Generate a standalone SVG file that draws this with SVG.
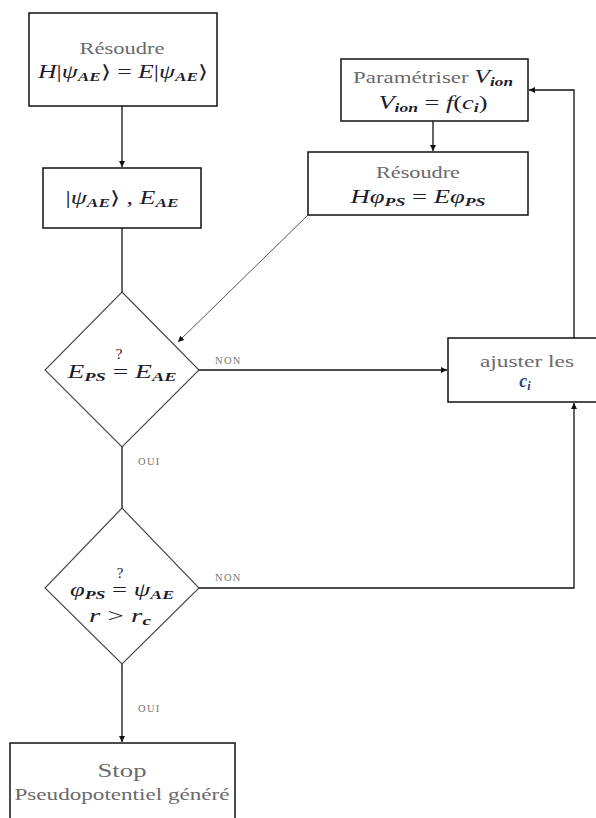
<svg xmlns="http://www.w3.org/2000/svg" width="596" height="818" viewBox="0 0 596 818">
<style>
.box{fill:#fff;stroke:#111;stroke-width:1.5}
.dia{fill:#fff;stroke:#444;stroke-width:1.1}
.ln{fill:none;stroke:#111;stroke-width:1.3}
.ln2{fill:none;stroke:#555;stroke-width:1}
.r{font-family:"Liberation Serif","Times New Roman",Times,serif;fill:#6a6a6a;text-anchor:middle}
.m{font-family:"Liberation Serif","Times New Roman",Times,serif;fill:#1c1c2e;text-anchor:middle;font-size:18px}
.q{font-family:"Liberation Serif","Times New Roman",Times,serif;fill:#1c1c2e;text-anchor:middle;font-size:15px}
.i{font-style:italic}
.s{font-size:12px;font-style:italic;font-weight:bold}
.lbl{font-family:"Liberation Serif","Times New Roman",Times,serif;fill:#777;font-size:10.5px;letter-spacing:1.3px}
</style>
<defs>
<marker id="ah" markerUnits="userSpaceOnUse" markerWidth="8" markerHeight="8" refX="6" refY="3" orient="auto">
<path d="M0,0 L6,3 L0,6 Z" fill="#111"/>
</marker>
</defs>
<rect width="596" height="818" fill="#fff"/>
<g id="connectors">
<line class="ln" x1="122" y1="106" x2="122" y2="167" marker-end="url(#ah)"/>
<line class="ln" x1="122" y1="228" x2="122" y2="292"/>
<line class="ln2" x1="308" y1="215" x2="178" y2="342" marker-end="url(#ah)"/>
<line class="ln" x1="433" y1="121" x2="433" y2="151" marker-end="url(#ah)"/>
<line class="ln" x1="199" y1="370" x2="447" y2="370" marker-end="url(#ah)"/>
<polyline class="ln" points="574,338 574,90 529,90" marker-end="url(#ah)"/>
<line class="ln" x1="122" y1="447" x2="122" y2="508"/>
<polyline class="ln" points="199,588 574,588 574,403" marker-end="url(#ah)"/>
<line class="ln" x1="122" y1="664" x2="122" y2="742" marker-end="url(#ah)"/>
<text class="lbl" x="215" y="364">NON</text>
<text class="lbl" x="215" y="581">NON</text>
<text class="lbl" x="138" y="465">OUI</text>
<text class="lbl" x="138" y="712">OUI</text>
</g>
<g id="n1">
<rect class="box" x="29" y="13" width="188" height="93"/>
<text class="r" x="122" y="54" font-size="17" textLength="85" lengthAdjust="spacingAndGlyphs">Résoudre</text>
<text class="m" x="123" y="78" textLength="170" lengthAdjust="spacingAndGlyphs"><tspan class="i">H</tspan>|<tspan class="i">ψ</tspan><tspan class="s" dy="3">AE</tspan><tspan dy="-3">⟩ = </tspan><tspan class="i">E</tspan>|<tspan class="i">ψ</tspan><tspan class="s" dy="3">AE</tspan><tspan dy="-3">⟩</tspan></text>
</g>
<g id="n2">
<rect class="box" x="43" y="168" width="158" height="60"/>
<text class="m" x="122" y="204" textLength="113" lengthAdjust="spacingAndGlyphs">|<tspan class="i">ψ</tspan><tspan class="s" dy="3">AE</tspan><tspan dy="-3">⟩ ,  </tspan><tspan class="i">E</tspan><tspan class="s" dy="3">AE</tspan></text>
</g>
<g id="n3">
<polygon class="dia" points="122,292 199,370 122,447 45,370"/>
<text class="q" x="119" y="359">?</text>
<text class="m" x="122" y="378" textLength="109" lengthAdjust="spacingAndGlyphs"><tspan class="i">E</tspan><tspan class="s" dy="3">PS</tspan><tspan dy="-3"> = </tspan><tspan class="i">E</tspan><tspan class="s" dy="3">AE</tspan></text>
</g>
<g id="n4">
<polygon class="dia" points="122,508 199,588 122,664 45,588"/>
<text class="q" x="120" y="578">?</text>
<text class="m" x="122" y="596" textLength="104" lengthAdjust="spacingAndGlyphs"><tspan class="i">φ</tspan><tspan class="s" dy="3">PS</tspan><tspan dy="-3"> = </tspan><tspan class="i">ψ</tspan><tspan class="s" dy="3">AE</tspan></text>
<text class="m" x="120" y="622" textLength="62" lengthAdjust="spacingAndGlyphs"><tspan class="i">r</tspan> &gt; <tspan class="i">r</tspan><tspan class="s" dy="3">c</tspan></text>
</g>
<g id="n5">
<rect class="box" x="341" y="59" width="187" height="62"/>
<text class="r" x="433" y="83" font-size="16" textLength="160" lengthAdjust="spacingAndGlyphs">Paramétriser <tspan class="i" fill="#1c1c2e" font-size="18">V</tspan><tspan class="s" fill="#1c1c2e" dy="3">ion</tspan></text>
<text class="m" x="433" y="109" textLength="109" lengthAdjust="spacingAndGlyphs"><tspan class="i">V</tspan><tspan class="s" dy="3">ion</tspan><tspan dy="-3"> = </tspan><tspan class="i">f</tspan>(<tspan class="i">c</tspan><tspan class="s" dy="3">i</tspan><tspan dy="-3">)</tspan></text>
</g>
<g id="n6">
<rect class="box" x="308" y="152" width="220" height="63"/>
<text class="r" x="418" y="178" font-size="17" textLength="84" lengthAdjust="spacingAndGlyphs">Résoudre</text>
<text class="m" x="418" y="203" textLength="135" lengthAdjust="spacingAndGlyphs"><tspan class="i">Hφ</tspan><tspan class="s" dy="3">PS</tspan><tspan dy="-3"> = </tspan><tspan class="i">Eφ</tspan><tspan class="s" dy="3">PS</tspan></text>
</g>
<g id="n7">
<rect class="box" x="448" y="338" width="150" height="64"/>
<text class="r" x="527" y="367" font-size="17" textLength="94" lengthAdjust="spacingAndGlyphs">ajuster les</text>
<text class="m" x="525" y="387"><tspan class="i" font-weight="bold" fill="#2a3f80">c</tspan><tspan class="s" fill="#2a3f80" dy="3">i</tspan></text>
</g>
<g id="n8">
<rect class="box" x="10" y="743" width="225" height="90"/>
<text class="r" x="122" y="777" font-size="19" textLength="49" lengthAdjust="spacingAndGlyphs">Stop</text>
<text class="r" x="122" y="800" font-size="17" textLength="215" lengthAdjust="spacingAndGlyphs">Pseudopotentiel généré</text>
</g>
</svg>
